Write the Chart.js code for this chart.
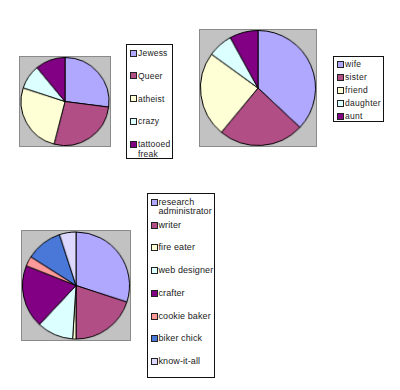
<!DOCTYPE html>
<html>
<head>
<meta charset="utf-8">
<script src="https://cdn.jsdelivr.net/npm/chart.js@4/dist/chart.umd.min.js"></script>
<style>
  html, body { margin: 0; padding: 0; background: #fff; }
  body { width: 400px; height: 390px; position: relative; overflow: hidden; font-family: "Liberation Sans", Arial, sans-serif; }
  canvas.pie { position: absolute; background: #c2c2c2; border: 1px solid #8a8a8a; }
  .legend { position: absolute; border: 1px solid #111; background: #fff; box-sizing: border-box; }
  .item { position: absolute; left: 0; right: 0; color: #222; }
  .sw { position: absolute; left: 3px; width: 5px; height: 5px; border: 1px solid #222; }
  .txt { position: absolute; white-space: normal; }
</style>
</head>
<body>
<canvas id="c1" class="pie" width="92" height="91" style="left:19px;top:56px"></canvas>
<canvas id="c2" class="pie" width="118" height="118" style="left:199px;top:29px"></canvas>
<canvas id="c3" class="pie" width="110" height="111" style="left:21px;top:230px"></canvas>
<div id="l1" class="legend" style="left:126px;top:44px;width:47px;height:115px"></div>
<div id="l2" class="legend" style="left:333px;top:56px;width:51px;height:66px"></div>
<div id="l3" class="legend" style="left:147px;top:193px;width:68px;height:185px"></div>
<script>
// ---- data ----
const cats1 = ['Jewess', 'Queer', 'atheist', 'crazy', 'tattooed freak'];
const vals1 = [27, 27, 26, 9, 11];
const cats2 = ['wife', 'sister', 'friend', 'daughter', 'aunt'];
const vals2 = [37, 24, 24, 7, 8];
const cats3 = ['research administrator', 'writer', 'fire eater', 'web designer', 'crafter', 'cookie baker', 'biker chick', 'know-it-all'];
const vals3 = [30, 20, 1, 11, 19, 3, 11, 5];

// ---- styling ----
const palette = ['#b0a8ff', '#b24e86', '#ffffd6', '#dcffff', '#820084', '#ff9a9a', '#4a78d8', '#dcd8ff'];

function makePie(id, labels, values) {
  new Chart(document.getElementById(id), {
    type: 'pie',
    data: {
      labels: labels,
      datasets: [{
        data: values,
        backgroundColor: palette.slice(0, values.length),
        borderColor: '#000',
        borderWidth: 1
      }]
    },
    options: {
      responsive: false,
      animation: false,
      events: [],
      layout: { padding: 0 },
      plugins: { legend: { display: false }, tooltip: { enabled: false } }
    }
  });
}

function makeLegend(id, labels, opts) {
  const box = document.getElementById(id);
  labels.forEach((lab, i) => {
    const it = document.createElement('div');
    it.className = 'item';
    it.style.top = (opts.top + i * opts.gap) + 'px';
    it.style.fontSize = opts.font + 'px';
    it.style.lineHeight = opts.lh + 'px';
    it.style.letterSpacing = opts.ls + 'px';
    const sw = document.createElement('div');
    sw.className = 'sw';
    sw.style.background = palette[i];
    sw.style.top = (opts.lh / 2 - 3.5) + 'px';
    const tx = document.createElement('div');
    tx.className = 'txt';
    tx.style.left = opts.tx + 'px';
    tx.style.width = opts.tw + 'px';
    tx.textContent = lab;
    it.appendChild(sw);
    it.appendChild(tx);
    box.appendChild(it);
  });
}

makePie('c1', cats1, vals1);
makePie('c2', cats2, vals2);
makePie('c3', cats3, vals3);

makeLegend('l1', cats1, { top: 3, gap: 22.75, font: 8.5, lh: 10, ls: 0.2, tx: 11, tw: 34 });
makeLegend('l2', cats2, { top: 2, gap: 13, font: 8.5, lh: 10, ls: 0.3, tx: 11, tw: 40 });
makeLegend('l3', cats3, { top: 4, gap: 22.7, font: 9, lh: 9, ls: 0.1, tx: 10.5, tw: 62 });
</script>
</body>
</html>
